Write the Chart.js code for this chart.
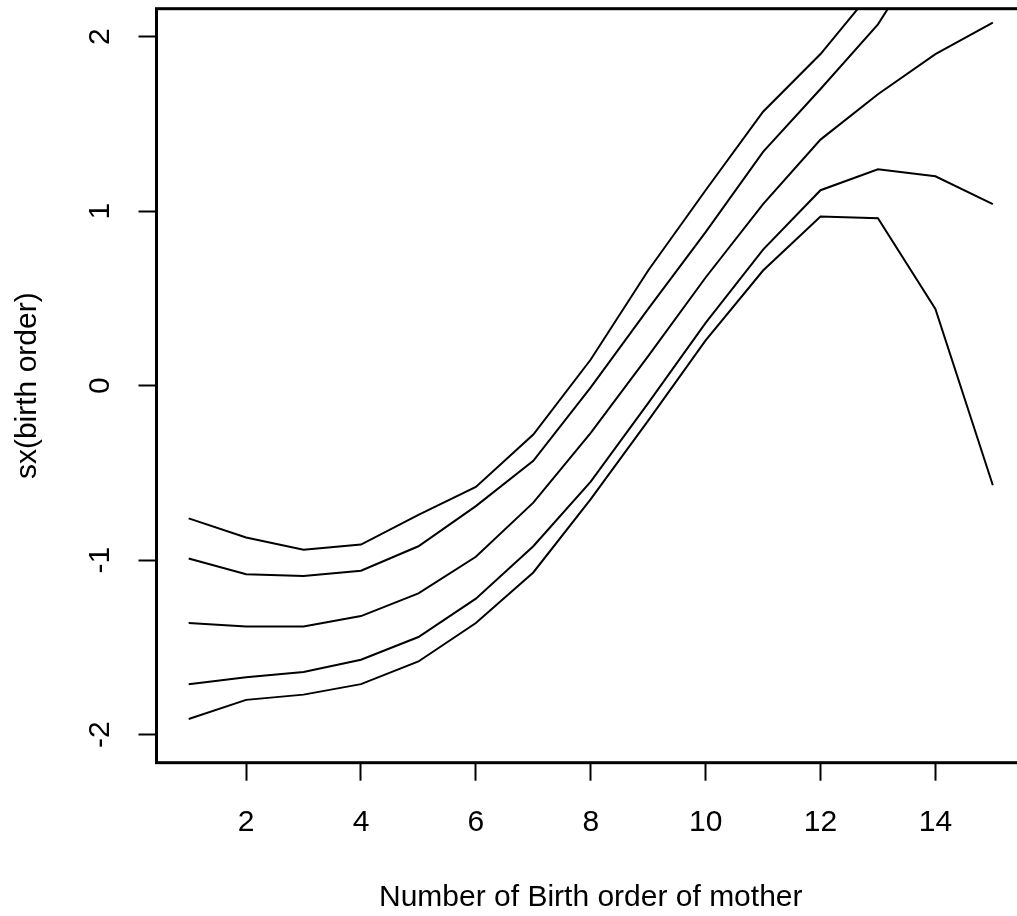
<!DOCTYPE html>
<html>
<head>
<meta charset="utf-8">
<script src="https://cdn.jsdelivr.net/npm/chart.js@4/dist/chart.umd.min.js"></script>
<style>
  html, body { margin: 0; padding: 0; background: #fff; overflow: hidden; }
  canvas { display: block; }
</style>
</head>
<body>
<canvas id="smoothChart" width="1025" height="916"></canvas>
<script>
// dati (birth order 1..15)
let birthOrder = [1, 2, 3, 4, 5, 6, 7, 8, 9, 10, 11, 12, 13, 14, 15];
let upperOuter = [-0.76, -0.87, -0.94, -0.91, -0.74, -0.58, -0.28, 0.15, 0.66, 1.12, 1.57, 1.90, 2.30, 3.30, 4.70];
let upperInner = [-0.99, -1.08, -1.09, -1.06, -0.92, -0.69, -0.43, -0.01, 0.44, 0.88, 1.34, 1.70, 2.07, 2.59, 3.10];
let estimate   = [-1.36, -1.38, -1.38, -1.32, -1.19, -0.98, -0.67, -0.27, 0.17, 0.62, 1.04, 1.41, 1.67, 1.90, 2.08];
let lowerInner = [-1.71, -1.67, -1.64, -1.57, -1.44, -1.22, -0.92, -0.55, -0.10, 0.36, 0.78, 1.12, 1.24, 1.20, 1.04];
let lowerOuter = [-1.91, -1.80, -1.77, -1.71, -1.58, -1.36, -1.07, -0.65, -0.20, 0.26, 0.66, 0.97, 0.96, 0.44, -0.57];

// tick degli assi
let xTicks = [2, 4, 6, 8, 10, 12, 14];
let yTicks = [-2, -1, 0, 1, 2];

let font = { family: "'Liberation Sans', Arial, sans-serif", size: 30 };

const toPoints = function(vals) {
  return vals.map((v, i) => ({ x: birthOrder[i], y: v }));
};

const lineSet = function(vals) {
  return {
    data: toPoints(vals),
    borderColor: '#000',
    borderWidth: 2,
    pointRadius: 0,
    fill: false,
    tension: 0
  };
};

// cornice stile R
const BoxPlugin = {
  id: 'box',
  afterDatasetsDraw: (chart) => {
    const { ctx, chartArea } = chart;
    ctx.save();
    ctx.strokeStyle = '#000';
    ctx.lineWidth = 3;
    ctx.strokeRect(chartArea.left, chartArea.top, chartArea.right - chartArea.left, chartArea.bottom - chartArea.top);
    ctx.restore();
  }
};

let ctx = document.getElementById('smoothChart').getContext('2d');

let myChart = new Chart(ctx, {
  type: 'line',
  data: {
    datasets: [
      lineSet(upperOuter),
      lineSet(upperInner),
      lineSet(estimate),
      lineSet(lowerInner),
      lineSet(lowerOuter)
    ]
  },
  options: {
    responsive: false,
    animation: false,
    layout: { autoPadding: false, padding: { top: 8.7, left: 0, right: 0, bottom: 0 } },
    plugins: { legend: { display: false }, tooltip: { enabled: false } },
    scales: {
      x: {
        type: 'linear',
        min: 0.44,
        max: 15.56,
        afterBuildTicks: (s) => { s.ticks = xTicks.map(v => ({ value: v })); },
        afterFit: (s) => { s.height = 153.3; s.paddingLeft = 0; s.paddingRight = 0; },
        border: { display: false },
        grid: { drawOnChartArea: false, drawTicks: true, tickLength: 18, tickColor: '#000', tickWidth: 2 },
        ticks: { color: '#000', font: font, padding: 24, maxRotation: 0, minRotation: 0 },
        title: { display: true, text: 'Number of Birth order of mother', color: '#000', font: font, padding: { top: 0, bottom: 0 } }
      },
      y: {
        type: 'linear',
        min: -2.16,
        max: 2.16,
        afterBuildTicks: (s) => { s.ticks = yTicks.map(v => ({ value: v })); },
        afterFit: (s) => { s.width = 156.5; s.paddingTop = 0; s.paddingBottom = 0; },
        border: { display: false },
        grid: { drawOnChartArea: false, drawTicks: true, tickLength: 18, tickColor: '#000', tickWidth: 2 },
        ticks: {
          color: '#000', font: font, padding: 24.5,
          minRotation: 90, maxRotation: 90, crossAlign: 'center',
          callback: (v) => String(v)
        },
        title: { display: true, text: 'sx(birth order)', color: '#000', font: font, padding: { top: 10, bottom: 0 } }
      }
    }
  },
  plugins: [BoxPlugin]
});
</script>
</body>
</html>
